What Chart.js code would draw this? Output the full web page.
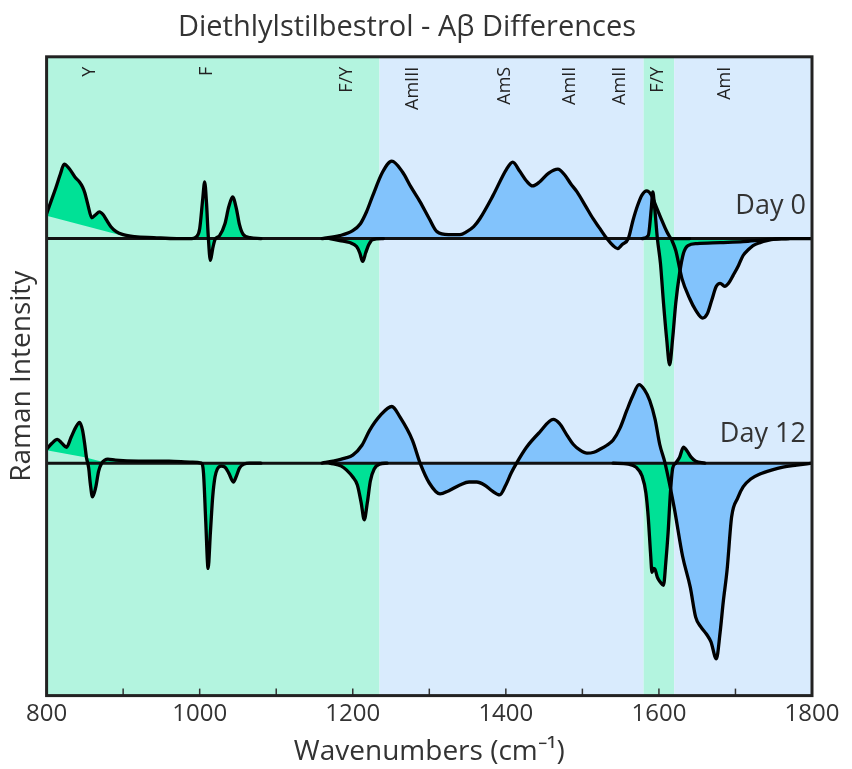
<!DOCTYPE html>
<html lang="en">
<head>
<meta charset="UTF-8">
<title>Diethlylstilbestrol - Aβ Differences</title>
<script src="https://cdn.jsdelivr.net/npm/chart.js@4.4.0/dist/chart.umd.min.js"></script>
<style>
  html, body { margin: 0; padding: 0; background: #fff; }
  #wrap { position: relative; width: 852px; height: 769px; }
</style>
</head>
<body>
<div id="wrap"><canvas id="spectra"></canvas></div>
<script>
// Difference spectra, [wavenumber, intensity above the day's baseline]
const day0Aromatic = [[800,25],[806,38],[812,51],[818,65],[823,75],[830,70],[837,62],[843,57],[847,52],[850,46],[854,34],[859,21],[864,24],[869,27],[874,24],[878,19],[884,12],[891,7],[900,4],[915,2],[940,1],[970,0],[990,0],[996,2],[1000,10],[1004,40],[1006.5,57],[1009,35],[1011,5],[1014,-22],[1017,-10],[1020,-1],[1026,3],[1033,15],[1038,32],[1043,42],[1048,30],[1052,14],[1057,4],[1066,1],[1080,0]];
const day0FYDip = [[1170,0],[1183,-2],[1196,-4],[1205,-8],[1209,-14],[1213,-23],[1217,-14],[1221,-6],[1226,-1],[1240,0]];
const day0Amide = [[1160,0],[1183,3],[1200,8],[1210,15],[1218,27],[1226,43],[1239,67],[1251,78],[1265,67],[1276,52],[1288,37],[1300,20],[1310,7],[1325,4],[1340,4],[1349,7],[1358,12],[1366,20],[1383,43],[1401,70],[1409,77],[1418,68],[1427,58],[1435,53],[1444,57],[1456,66],[1468,70],[1477,64],[1485,55],[1493,47],[1504,33],[1514,20],[1523,10],[1532,0],[1540,-7],[1546,-10],[1552,-6],[1560,0],[1566,18],[1572,33],[1578,44],[1584,48],[1590,44],[1596,33],[1604,18],[1611,6],[1617,0],[1640,0]];
const day0FYBand = [[1578,0],[1586,3],[1590,30],[1592,47],[1594,35],[1598,0],[1602,-25],[1606,-65],[1610,-100],[1614,-127],[1618,-100],[1622,-65],[1627,-35],[1632,-15],[1638,-7],[1650,-5],[1680,-4],[1710,-3],[1740,-1],[1770,0]];
const day0AmideI = [[1616,0],[1622,-12],[1630,-40],[1640,-60],[1648,-72],[1657,-80],[1663,-76],[1669,-62],[1675,-48],[1680,-45],[1686,-48],[1691,-45],[1697,-37],[1704,-27],[1710,-17],[1717,-11],[1723,-7],[1732,-4],[1741,-2],[1760,0],[1800,0]];
const day0Floor = [[800,23],[913,0],[1800,0]];

const day12Aromatic = [[800,14],[807,20],[814,24],[820,20],[826,16],[832,26],[838,36],[843,41],[847,33],[850,18],[852,6],[855,-5],[857,-20],[860,-34],[864,-25],[868,-8],[872,0],[876,3],[880,4],[890,3],[920,2],[960,2],[990,1],[1002,0],[1005,-10],[1008,-60],[1011,-106],[1014,-70],[1017,-34],[1020,-14],[1023,-6],[1028,-3],[1033,-4],[1038,-10],[1044,-19],[1048,-13],[1052,-5],[1058,-1],[1065,0],[1080,0]];
const day12FYDip = [[1170,0],[1185,-3],[1192,-7],[1200,-14],[1206,-22],[1211,-40],[1215,-57],[1219,-40],[1223,-18],[1228,-6],[1235,-1],[1245,0]];
const day12Amide = [[1160,0],[1174,2],[1190,5],[1200,8],[1212,18],[1222,33],[1236,48],[1251,57],[1262,46],[1278,23],[1288,0],[1300,-20],[1314,-31],[1325,-28],[1340,-22],[1352,-19],[1362,-19],[1372,-22],[1382,-28],[1392,-32],[1400,-22],[1407,-10],[1414,0],[1427,16],[1444,31],[1462,44],[1470,40],[1480,28],[1488,19],[1497,13],[1506,10],[1515,11],[1523,14],[1532,18],[1540,23],[1549,35],[1558,53],[1566,68],[1574,79],[1581,74],[1588,63],[1595,44],[1601,19],[1608,0],[1620,-45],[1631,-94],[1641,-125],[1648,-155],[1655,-165],[1662,-172],[1668,-180],[1675,-197],[1680,-170],[1684,-140],[1689,-108],[1695,-54],[1703,-35],[1710,-24],[1720,-16],[1732,-11],[1747,-7],[1762,-4],[1780,-2],[1800,0]];
const day12FYBand = [[1540,0],[1560,-1],[1570,-4],[1578,-13],[1583,-30],[1586,-54],[1589,-90],[1591,-110],[1593,-106],[1595,-107],[1598,-115],[1602,-120],[1606,-123],[1609,-100],[1612,-70],[1615,-30],[1618,-5],[1622,0]];
const day12Small = [[1622,0],[1627,6],[1632,16],[1637,12],[1642,6],[1648,2],[1660,0]];
const day12Floor = [[800,13],[850,6],[880,0],[1800,0]];

const dayNames = ['Day 0', 'Day 12'];
const dayBaselines = [460, 234];
const dayLabelRise = [33, 29];

const bandEdges = [800, 1235, 1580, 1620, 1800];
const bandTypes = ['aromatic', 'amide', 'aromatic', 'amide'];

const peakLabels = ['Y', 'F', 'F/Y', 'AmIII', 'AmS', 'AmII', 'AmII', 'F/Y', 'AmI'];
const peakPositions = [856, 1010, 1192, 1278, 1399, 1484, 1549, 1599, 1686];

const xTickLabels = [800, 1000, 1200, 1400, 1600, 1800];

const BAND_COLORS = { aromatic: '#b3f4df', amide: '#d9ebfd' };
const FILL_GREEN = '#00e196';
const FILL_BLUE = '#82c3fc';
const FONT = '"Open Sans", sans-serif';

function trace(points, base, color, fill) {
  return {
    data: points.map(([x, y]) => ({ x, y: y + base })),
    borderColor: '#000',
    borderWidth: 3.3,
    borderJoinStyle: 'round',
    borderCapStyle: 'round',
    backgroundColor: color,
    fill: fill === undefined ? { value: base } : fill,
    pointRadius: 0,
    cubicInterpolationMode: 'monotone'
  };
}

function floor(points, base) {
  return {
    data: points.map(([x, y]) => ({ x, y: y + base })),
    borderWidth: 0,
    borderColor: 'rgba(0,0,0,0)',
    fill: false,
    pointRadius: 0
  };
}

function baseline(base) {
  return {
    data: [{ x: 800, y: base }, { x: 1800, y: base }],
    borderColor: '#111',
    borderWidth: 3,
    fill: false,
    pointRadius: 0
  };
}

const [b0, b12] = dayBaselines;
// earlier datasets are painted last, so the green fills sit over the blue ones
const datasets = [
  floor(day0Floor, b0),                        // 0
  floor(day12Floor, b12),                      // 1
  trace(day0FYBand, b0, FILL_GREEN),
  trace(day0FYDip, b0, FILL_GREEN),
  trace(day0Aromatic, b0, FILL_GREEN, 0),
  trace(day0Amide, b0, FILL_BLUE),
  trace(day0AmideI, b0, FILL_BLUE),
  trace(day12FYBand, b12, FILL_GREEN),
  trace(day12Small, b12, FILL_GREEN),
  trace(day12FYDip, b12, FILL_GREEN),
  trace(day12Aromatic, b12, FILL_GREEN, 1),
  trace(day12Amide, b12, FILL_BLUE),
  baseline(b0),
  baseline(b12)
];

const decor = {
  id: 'decor',
  beforeDraw(chart) {
    const { ctx, chartArea: a, scales: { x } } = chart;
    ctx.save();
    for (let i = 0; i < bandTypes.length; i++) {
      const x0 = x.getPixelForValue(bandEdges[i]);
      const x1 = x.getPixelForValue(bandEdges[i + 1]);
      ctx.fillStyle = BAND_COLORS[bandTypes[i]];
      ctx.fillRect(x0, a.top, x1 - x0, a.bottom - a.top);
    }
    ctx.restore();
  },
  afterDatasetsDraw(chart) {
    const { ctx, chartArea: a, scales: { x, y } } = chart;
    ctx.save();

    // inward tick marks on the wavenumber axis
    ctx.strokeStyle = '#333';
    ctx.lineWidth = 1.5;
    x.ticks.forEach((t, i) => {
      const px = x.getPixelForTick(i);
      ctx.beginPath();
      ctx.moveTo(px, a.bottom);
      ctx.lineTo(px, a.bottom - 7);
      ctx.stroke();
    });

    // frame
    ctx.strokeStyle = '#222';
    ctx.lineWidth = 3;
    ctx.strokeRect(a.left, a.top, a.right - a.left, a.bottom - a.top);

    // band assignments, rotated
    ctx.fillStyle = '#222';
    ctx.font = '18px ' + FONT;
    ctx.textAlign = 'right';
    ctx.textBaseline = 'middle';
    peakLabels.forEach((label, i) => {
      ctx.save();
      ctx.translate(x.getPixelForValue(peakPositions[i]), a.top + 10);
      ctx.rotate(-Math.PI / 2);
      ctx.fillText(label, 0, 0);
      ctx.restore();
    });

    // day captions
    ctx.fillStyle = '#333';
    ctx.font = '27px ' + FONT;
    dayNames.forEach((name, i) => {
      ctx.fillText(name, x.getPixelForValue(1792), y.getPixelForValue(dayBaselines[i] + dayLabelRise[i]));
    });
    ctx.restore();
  }
};

new Chart(document.getElementById('spectra'), {
  type: 'line',
  data: { datasets },
  plugins: [decor],
  options: {
    responsive: true,
    maintainAspectRatio: false,
    animation: false,
    events: [],
    layout: { padding: { top: 5, left: 2, right: 40, bottom: 0 } },
    plugins: {
      legend: { display: false },
      tooltip: { enabled: false },
      filler: { drawTime: 'beforeDatasetsDraw' },
      title: {
        display: true,
        text: 'Diethlylstilbestrol - Aβ Differences',
        color: '#333',
        font: { family: FONT, size: 29, weight: 'normal' },
        padding: { top: 5, bottom: 12 }
      }
    },
    scales: {
      x: {
        type: 'linear',
        min: 800,
        max: 1800,
        grid: { display: false, drawTicks: false },
        border: { display: false },
        ticks: {
          stepSize: 100,
          autoSkip: false,
          maxRotation: 0,
          padding: 4,
          color: '#333',
          font: { family: FONT, size: 24 },
          callback: v => xTickLabels.includes(v) ? String(v) : ''
        },
        title: {
          display: true,
          text: 'Wavenumbers (cm⁻¹)',
          color: '#333',
          font: { family: FONT, size: 28 },
          padding: { top: 3, bottom: 0 }
        }
      },
      y: {
        type: 'linear',
        min: 0,
        max: 643,
        grid: { display: false, drawTicks: false },
        border: { display: false },
        ticks: { display: false },
        title: {
          display: true,
          text: 'Raman Intensity',
          color: '#333',
          font: { family: FONT, size: 28 },
          padding: { top: 3, bottom: 8 }
        }
      }
    }
  }
});
</script>
</body>
</html>
